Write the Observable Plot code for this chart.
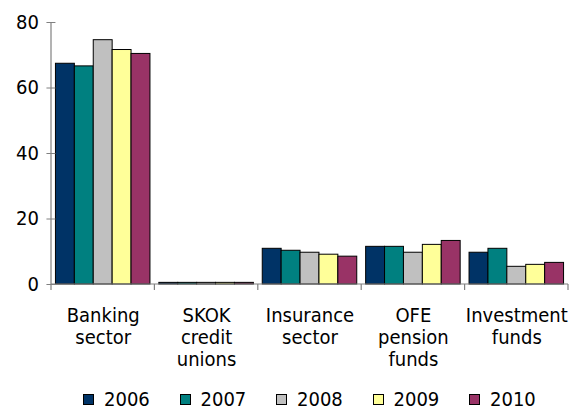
<!DOCTYPE html>
<html>
<head>
<meta charset="utf-8">
<script src="https://cdn.jsdelivr.net/npm/d3@7"></script>
<script src="https://cdn.jsdelivr.net/npm/@observablehq/plot@0.6"></script>
<style>
  html, body { margin: 0; padding: 0; background: #fff; }
  body { width: 582px; height: 410px; position: relative; overflow: hidden;
         font-family: "DejaVu Sans Condensed", "DejaVu Sans", sans-serif; }
  #title { position: absolute; right: 240px; top: -14px; font-size: 20px; line-height: 20px;
           white-space: nowrap; color: #000; }
  #chart { position: absolute; left: 0; top: 0; }
  #legend { position: absolute; left: 83px; top: 389px; display: flex; font-size: 20px; line-height: 20px; height: 20px; }
  .item { display: flex; align-items: center; width: 96.5px; }
  .sw { width: 9px; height: 9px; border: 1px solid #000; margin-right: 10px; }
</style>
</head>
<body>
<div id="title">Structure of the financial system (%)</div>
<div id="chart"></div>
<div id="legend"></div>
<script>
const categories = ["Banking\nsector", "SKOK\ncredit\nunions", "Insurance\nsector", "OFE\npension\nfunds", "Investment\nfunds"];
const years = ["2006", "2007", "2008", "2009", "2010"];
const colors = ["#003366", "#008080", "#C0C0C0", "#FFFF99", "#993366"];
const banking = [67.4, 66.6, 74.6, 71.6, 70.4];
const skok = [0.5, 0.5, 0.5, 0.5, 0.5];
const insurance = [10.9, 10.3, 9.7, 9.1, 8.5];
const ofe = [11.5, 11.5, 9.7, 12.1, 13.3];
const investment = [9.7, 10.9, 5.4, 6.0, 6.6];
const yTicks = [0, 20, 40, 60, 80];

const series = [banking, skok, insurance, ofe, investment];
const data = [];
categories.forEach((c, i) => years.forEach((y, j) => data.push({category: c, year: y, value: series[i][j]})));

const FONT = '"DejaVu Sans Condensed", "DejaVu Sans", sans-serif';
const plot = Plot.plot({
  width: 582,
  height: 380,
  marginLeft: 51,
  marginRight: 14,
  marginTop: 22,
  marginBottom: 96,
  style: {fontFamily: FONT, fontSize: "20px", color: "#000", background: "#fff"},
  fx: {domain: categories, paddingInner: 0.086, paddingOuter: 0.043, round: false, label: null},
  x: {domain: years, padding: 0, axis: null, round: false},
  y: {domain: [0, 80], label: null},
  color: {domain: years, range: colors},
  marks: [
    Plot.barY(data, {fx: "category", x: "year", y: "value", fill: "year", stroke: "#000", strokeWidth: 1, inset: 0}),
    Plot.axisY({ticks: yTicks, tickSize: 9, tickPadding: 8, stroke: "#808080", fill: "#000", label: null, fontSize: 20}),
    Plot.axisFx({anchor: "bottom", tickSize: 0, tickPadding: 22, label: null, fill: "#000", fontSize: 20, lineHeight: 1.1})
  ]
});
document.getElementById("chart").appendChild(plot);

// axis lines and category separator ticks, positioned from the plot's own scales
const fx = plot.scale("fx");
const ys = plot.scale("y");
const svg = d3.select(plot);
const gap = (fx.step - fx.bandwidth) / 2;
const left = fx.apply(categories[0]) - gap;
const right = fx.apply(categories[categories.length - 1]) + fx.bandwidth + gap;
const y0 = ys.apply(0), yTop = ys.apply(80);
const g = svg.append("g").attr("stroke", "#808080").attr("stroke-width", 1.2).attr("fill", "none");
g.append("line").attr("x1", left).attr("x2", left).attr("y1", yTop).attr("y2", y0);
g.append("line").attr("x1", left).attr("x2", right).attr("y1", y0).attr("y2", y0);
const bounds = categories.map(c => fx.apply(c) - gap).concat([right]);
bounds.forEach(b => g.append("line").attr("x1", b).attr("x2", b).attr("y1", y0).attr("y2", y0 + 6));

// legend
const legend = d3.select("#legend");
years.forEach((y, i) => {
  const it = legend.append("div").attr("class", "item");
  it.append("div").attr("class", "sw").style("background", colors[i]);
  it.append("span").text(y);
});
</script>
</body>
</html>
